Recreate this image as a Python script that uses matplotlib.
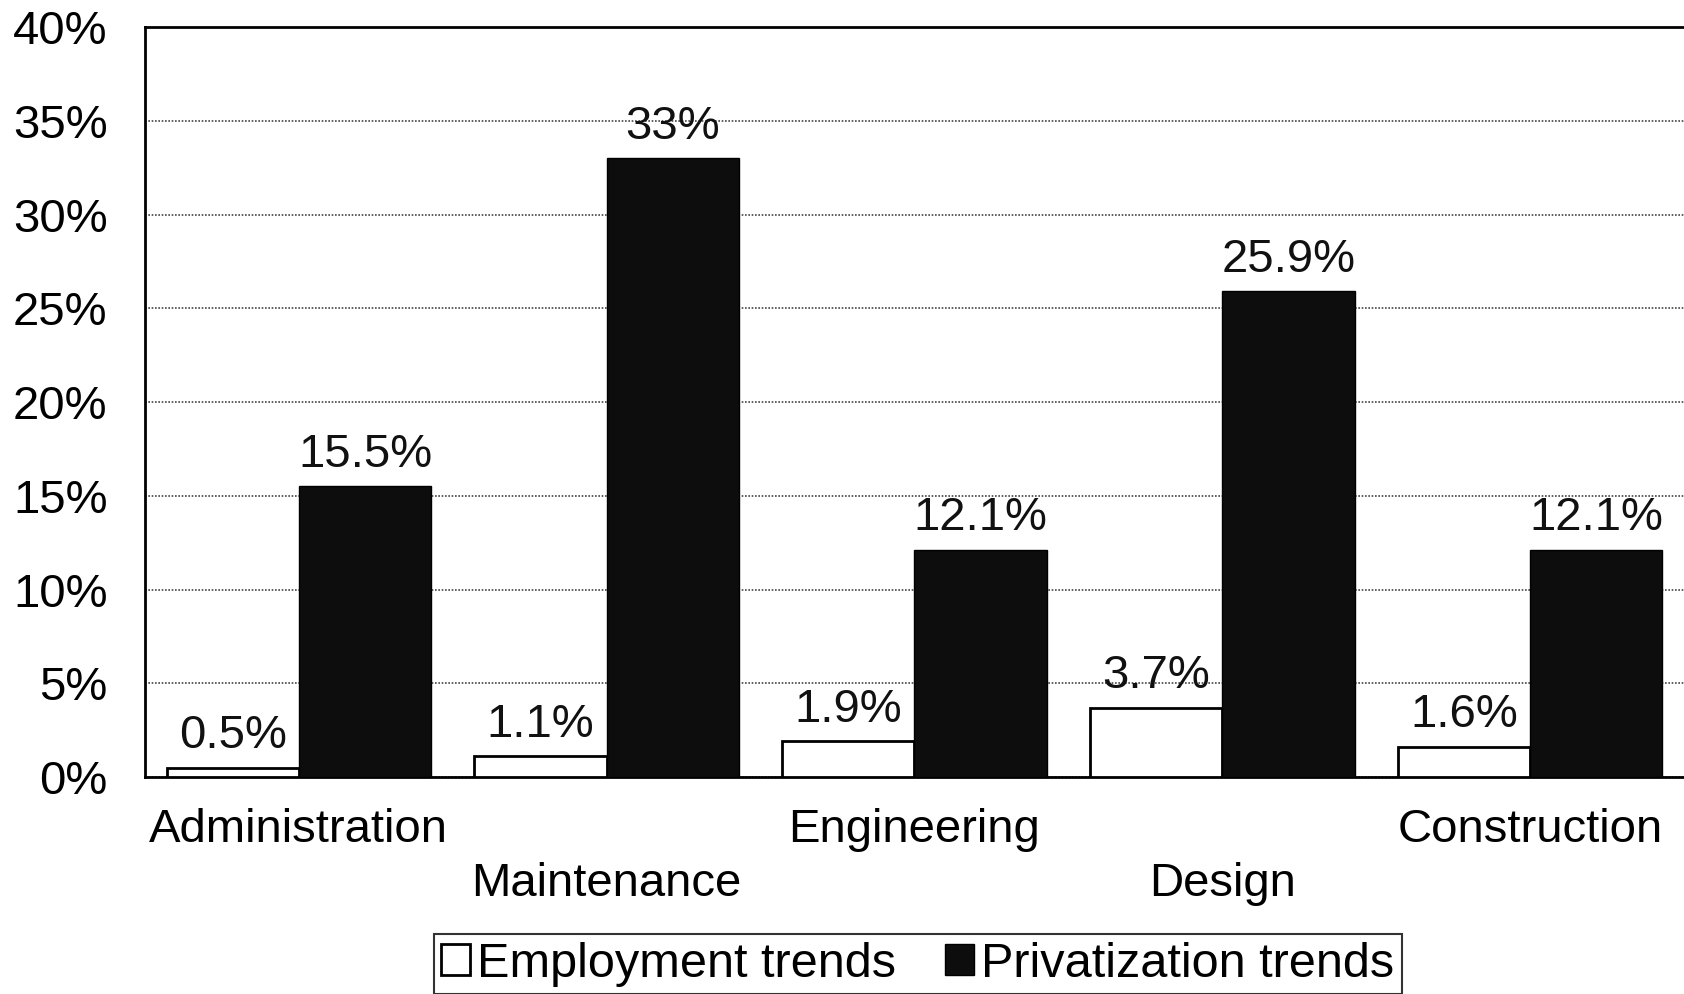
import numpy as np
import matplotlib.pyplot as plt

plt.rcParams["font.family"] = ["Liberation Sans", "DejaVu Sans"]

categories = ["Administration", "Maintenance", "Engineering", "Design", "Construction"]
employment = [0.5, 1.1, 1.9, 3.7, 1.6]
privatization = [15.5, 33, 12.1, 25.9, 12.1]
emp_labels = ["0.5%", "1.1%", "1.9%", "3.7%", "1.6%"]
priv_labels = ["15.5%", "33%", "12.1%", "25.9%", "12.1%"]

FS = 34

fig = plt.figure(figsize=(16.84, 9.94), dpi=100)
ax = fig.add_axes([0.0861, 0.2183, 0.9139, 0.7545])

x = np.arange(len(categories))
w = 0.43
b1 = ax.bar(x - w / 2, employment, w, color="white", edgecolor="black", lw=2,
            label="Employment trends", zorder=3)
b2 = ax.bar(x + w / 2, privatization, w, color="#0d0d0d", edgecolor="black", lw=1,
            label="Privatization trends", zorder=3)

for bars, labels in [(b1, emp_labels), (b2, priv_labels)]:
    for rect, lab in zip(bars, labels):
        ax.annotate(lab, (rect.get_x() + rect.get_width() / 2, rect.get_height()),
                    xytext=(0, 7), textcoords="offset points",
                    ha="center", va="bottom", fontsize=FS, color="#111111")

ax.set_xlim(-0.5, 4.5)
ax.set_ylim(0, 40)
ax.set_yticks(np.arange(0, 41, 5))
ax.set_yticklabels([f"{v}%" for v in range(0, 41, 5)], fontsize=FS)
ax.set_xticks(x)
ax.set_xticklabels([c if i % 2 == 0 else "\n" + c for i, c in enumerate(categories)],
                   fontsize=FS, linespacing=1.32)
ax.tick_params(axis="both", length=0)
ax.tick_params(axis="y", pad=27)
ax.tick_params(axis="x", pad=22)

ax.yaxis.grid(True, linestyle=(0, (1, 1)), color="#444444", lw=1.2, zorder=0)
for s in ["left", "bottom", "top"]:
    ax.spines[s].set_linewidth(2)
ax.spines["right"].set_visible(False)

leg = fig.legend(handles=[b1, b2], loc="lower center", bbox_to_anchor=(0.545, 0.0),
                 ncol=2, fontsize=35, frameon=True, fancybox=False,
                 handlelength=0.6, handleheight=0.6, handletextpad=0.15,
                 columnspacing=1.0, borderpad=0.15, borderaxespad=0)
leg.get_frame().set_edgecolor("black")
leg.get_frame().set_linewidth(1.5)

fig.savefig("out.png", dpi=100)
